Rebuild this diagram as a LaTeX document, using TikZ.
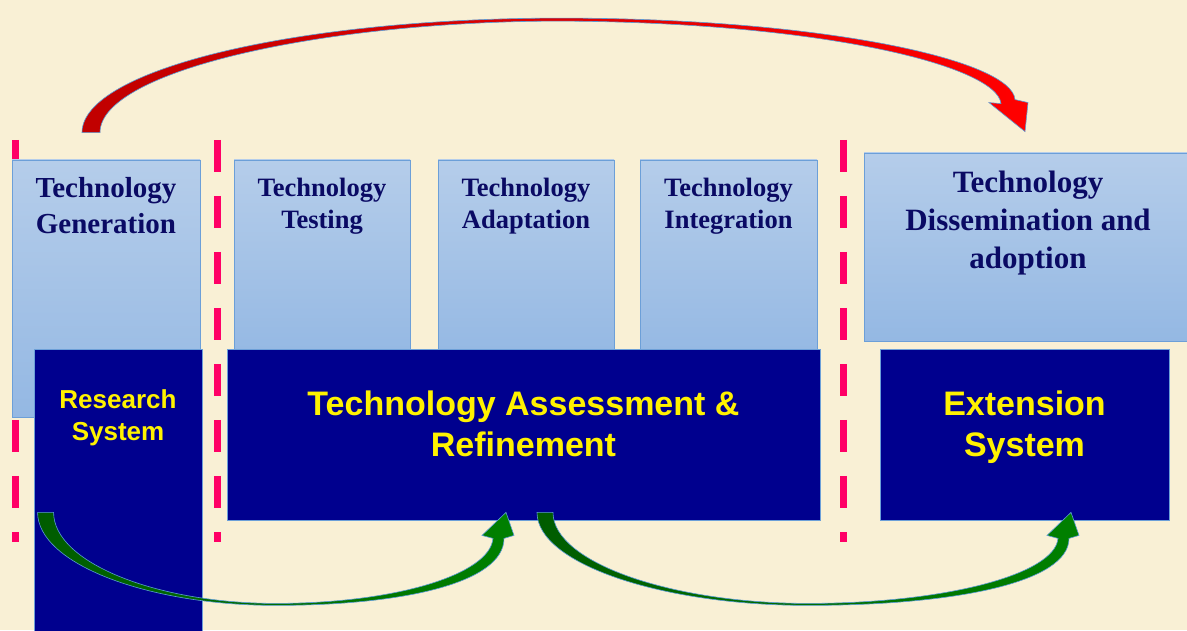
\documentclass[tikz,border=0pt]{standalone}
\usepackage{fontspec}
\setmainfont{Liberation Serif}
\setsansfont{Liberation Sans}
\usetikzlibrary{positioning,calc}

\definecolor{cream}{RGB}{249,240,213}
\definecolor{lighttop}{RGB}{181,205,234}
\definecolor{lightbot}{RGB}{148,184,227}
\definecolor{boxline}{RGB}{108,159,216}
\definecolor{navybox}{RGB}{0,0,142}
\definecolor{navytext}{RGB}{10,10,100}
\definecolor{dashpink}{RGB}{255,0,102}
\definecolor{darkred}{RGB}{192,0,0}
\definecolor{brightred}{RGB}{255,0,0}
\definecolor{darkgreen}{RGB}{0,92,0}
\definecolor{brightgreen}{RGB}{0,128,0}
\definecolor{arrowline}{RGB}{91,155,213}

\tikzset{
  lightbox/.style={draw=boxline, line width=0.8pt, top color=lighttop, bottom color=lightbot, inner sep=0pt},
  darkbox/.style={draw=boxline, line width=0.8pt, fill=navybox, inner sep=0pt},
  phase/.style={text=navytext, align=center, inner sep=0pt, font=\bfseries\fontsize{26.5}{32}\selectfont},
  system/.style={text=yellow, align=center, inner sep=0pt, font=\sffamily\bfseries\fontsize{34}{41}\selectfont},
  divider/.style={dashpink, line width=7pt, dash pattern=on 32pt off 24pt},
  greenbend/.style={draw=arrowline, line width=0.6pt, left color=darkgreen, right color=brightgreen},
  redbend/.style={draw=arrowline, line width=0.6pt, left color=darkred, right color=brightred}
}

% curved arrow bending down from #1 and back up into #2
\newcommand{\bendup}[2]{%
\path[greenbend] ($(#1)+(-8,0)$) .. controls ($(#1)+(-8,-51)$) and ($(#1)!0.22!(#2)+(0,-93)$) .. ($(#1)!0.5!(#2)+(0,-93)$)
 .. controls ($(#1)!0.78!(#2)+(0,-93)$) and ($(#2)+(-2,-70)$) .. ($(#2)+(-2,-26)$)
 -- ($(#2)+(8,-23)$) -- (#2) -- ($(#2)+(-24,-23)$) -- ($(#2)+(-13,-26)$)
 .. controls ($(#2)+(-16,-62)$) and ($(#1)!0.76!(#2)+(0,-91)$) .. ($(#1)!0.5!(#2)+(0,-91)$)
 .. controls ($(#1)!0.24!(#2)+(0,-91)$) and ($(#1)+(8,-50)$) .. ($(#1)+(8,0)$) -- cycle;}

\begin{document}
\begin{tikzpicture}[x=1pt,y=1pt]
\useasboundingbox (0,0) rectangle (1187,630);
\fill[cream] (0,0) rectangle (1187,630);

% dividers between the stages
\foreach \xd in {15.5,217,843}
  \draw[divider] (\xd,490) -- (\xd,88);

\path
(106,341.5) node[lightbox, minimum width=188pt, minimum height=257pt] (gen) {}
(322,370) node[lightbox, minimum width=176pt, minimum height=200pt] (test) {}
(526,370) node[lightbox, minimum width=176pt, minimum height=200pt] (adapt) {}
(728.5,370) node[lightbox, minimum width=177pt, minimum height=200pt] (integ) {}
(1028,383) node[lightbox, minimum width=328pt, minimum height=188pt] (diss) {}
(118,133) node[darkbox, minimum width=168pt, minimum height=296pt] (research) {}
(523.5,195.5) node[darkbox, minimum width=593pt, minimum height=171pt] (assess) {}
(1024.5,195.5) node[darkbox, minimum width=289pt, minimum height=171pt] (extension) {};

\node[phase, font=\bfseries\fontsize{29}{36}\selectfont, below=18pt of gen.north] (gen-text) {Technology\\Generation};
\node[phase, below=18pt of test.north] (test-text) {Technology\\Testing};
\node[phase, below=18pt of adapt.north] (adapt-text) {Technology\\Adaptation};
\node[phase, below=18pt of integ.north] (integ-text) {Technology\\Integration};
\node[phase, font=\bfseries\fontsize{31}{38}\selectfont, below=18pt of diss.north] (diss-text) {Technology\\Dissemination and\\adoption};
\node[system, font=\sffamily\bfseries\fontsize{26}{32}\selectfont, below=40.5pt of research.north] (research-text) {Research\\System};
\node[system, below=42pt of assess.north] (assess-text) {Technology Assessment \&\\Refinement};
\node[system, below=42pt of extension.north] (extension-text) {Extension\\System};

\coordinate (research-out) at ($(research.west |- assess.south)+(12,8)$);
\coordinate (assess-in) at ($(assess.south)+(-17.5,8)$);
\coordinate (assess-out) at ($(assess.south)+(21.5,8)$);
\coordinate (extension-in) at ($(extension.south)+(46.5,8)$);
\coordinate (gen-out) at ($(gen.north)+(-15,27)$);
\coordinate (diss-in) at ($(diss.north)+(-3,21)$);

\bendup{research-out}{assess-in}
\bendup{assess-out}{extension-in}

\path[redbend] ($(gen-out)+(-9,0)$) .. controls ($(gen-out)+(-9,63)$) and ($(gen-out)!0.22!(diss-in)+(0,114)$) .. ($(gen-out)!0.5!(diss-in)+(0,114)$)
 .. controls ($(gen-out)!0.78!(diss-in)+(0,114)$) and ($(diss-in)+(-13,72)$) .. ($(diss-in)+(-10,32)$)
 -- ($(diss-in)+(3,29)$) -- (diss-in) -- ($(diss-in)+(-36,29)$) -- ($(diss-in)+(-24,28)$)
 .. controls ($(diss-in)+(-28,66)$) and ($(gen-out)!0.78!(diss-in)+(0,110)$) .. ($(gen-out)!0.5!(diss-in)+(0,111)$)
 .. controls ($(gen-out)!0.25!(diss-in)+(0,111)$) and ($(gen-out)+(9,62)$) .. ($(gen-out)+(9,0)$) -- cycle;
\end{tikzpicture}
\end{document}
